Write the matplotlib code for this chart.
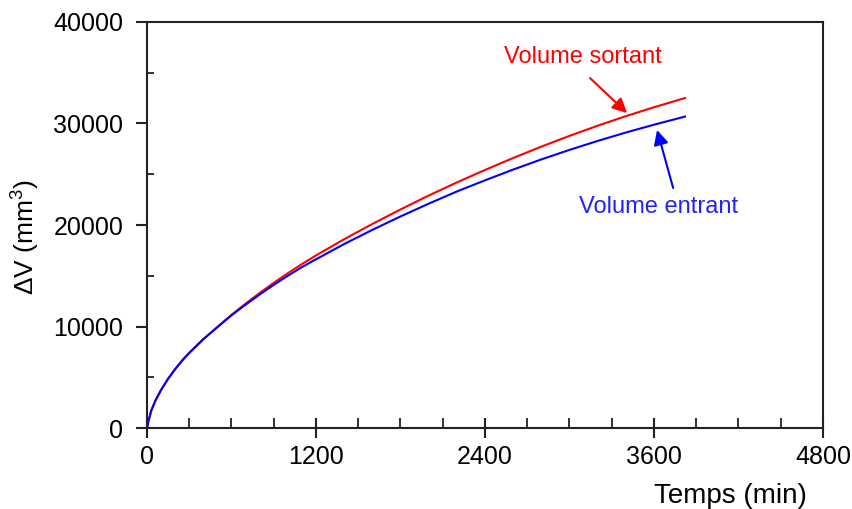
import matplotlib
matplotlib.use("Agg")
import matplotlib.pyplot as plt
from matplotlib.ticker import MultipleLocator

plt.rcParams['font.family'] = ['Liberation Sans', 'DejaVu Sans']
plt.rcParams['mathtext.fontset'] = 'custom'
plt.rcParams['mathtext.rm'] = 'Liberation Sans'
plt.rcParams['mathtext.it'] = 'Liberation Sans:italic'

# Data (time in min, volume in mm^3)
time_min = [0, 10, 30, 60, 100, 150, 200, 250, 300, 400, 500, 600, 700, 800, 900, 1000, 1100,
            1200, 1400, 1600, 1800, 2000, 2200, 2400, 2600, 2800, 3000, 3200, 3400, 3600, 3820]
vol_sortant = [0, 650, 1700, 2700, 3750, 4850, 5800, 6650, 7400, 8750, 9950, 11150, 12250, 13300, 14300, 15250, 16150,
               17000, 18600, 20100, 21530, 22900, 24190, 25420, 26600, 27720, 28780, 29780, 30720, 31600, 32510]
vol_entrant = [0, 650, 1700, 2700, 3750, 4850, 5800, 6650, 7400, 8750, 9940, 11100, 12150, 13150, 14100, 15000, 15850,
               16620, 18120, 19520, 20840, 22100, 23300, 24400, 25460, 26460, 27400, 28280, 29110, 29880, 30680]

x_ticks = [0, 1200, 2400, 3600, 4800]
y_ticks = [0, 10000, 20000, 30000, 40000]

label_sortant = "Volume sortant"
label_entrant = "Volume entrant"

fig = plt.figure(figsize=(8.53, 5.09), dpi=100)
ax = fig.add_axes([0.1723, 0.1591, 0.7925, 0.7977])

ax.plot(time_min, vol_sortant, color='#ff0000', lw=1.5)
ax.plot(time_min, vol_entrant, color='#0000ff', lw=1.5)

ax.set_xlim(0, 4800)
ax.set_ylim(0, 40000)
ax.set_xticks(x_ticks)
ax.set_yticks(y_ticks)
ax.xaxis.set_minor_locator(MultipleLocator(300))
ax.yaxis.set_minor_locator(MultipleLocator(5000))

for s in ['top', 'right', 'left', 'bottom']:
    ax.spines[s].set_linewidth(1.5)
    ax.spines[s].set_color('#222222')

ax.tick_params(axis='x', which='major', direction='inout', length=15, width=1.5, pad=5, labelsize=18, color='#222222')
ax.tick_params(axis='x', which='minor', direction='in', length=7, width=1.3, color='#222222')
ax.tick_params(axis='y', which='major', direction='out', length=8, width=1.5, pad=9, labelsize=18, color='#222222')
ax.tick_params(axis='y', which='minor', direction='in', length=5, width=1.3, color='#222222')
ax.tick_params(top=False, right=False, which='both')

ax.set_xlabel("Temps (min)", fontsize=20)
ax.xaxis.set_label_coords(0.976, -0.135)
ax.xaxis.label.set_horizontalalignment('right')
ax.set_ylabel(r"ΔV (mm$^3$)", fontsize=19)
ax.yaxis.set_label_coords(-0.156, 0.47)

ax.annotate("", xy=(3409, 31030), xytext=(3146, 34480),
            arrowprops=dict(arrowstyle='-|>', color='#ff0000', lw=1.5, mutation_scale=22, shrinkA=0, shrinkB=0))
ax.text(3097, 36550, label_sortant, color='#ff0000', fontsize=17, ha='center', va='center')

ax.annotate("", xy=(3622, 29360), xytext=(3736, 23650),
            arrowprops=dict(arrowstyle='-|>', color='#0000ff', lw=1.5, mutation_scale=22, shrinkA=0, shrinkB=0))
ax.text(3636, 21770, label_entrant, color='#2222ff', fontsize=17, ha='center', va='center')

fig.savefig("out.png", dpi=100)
